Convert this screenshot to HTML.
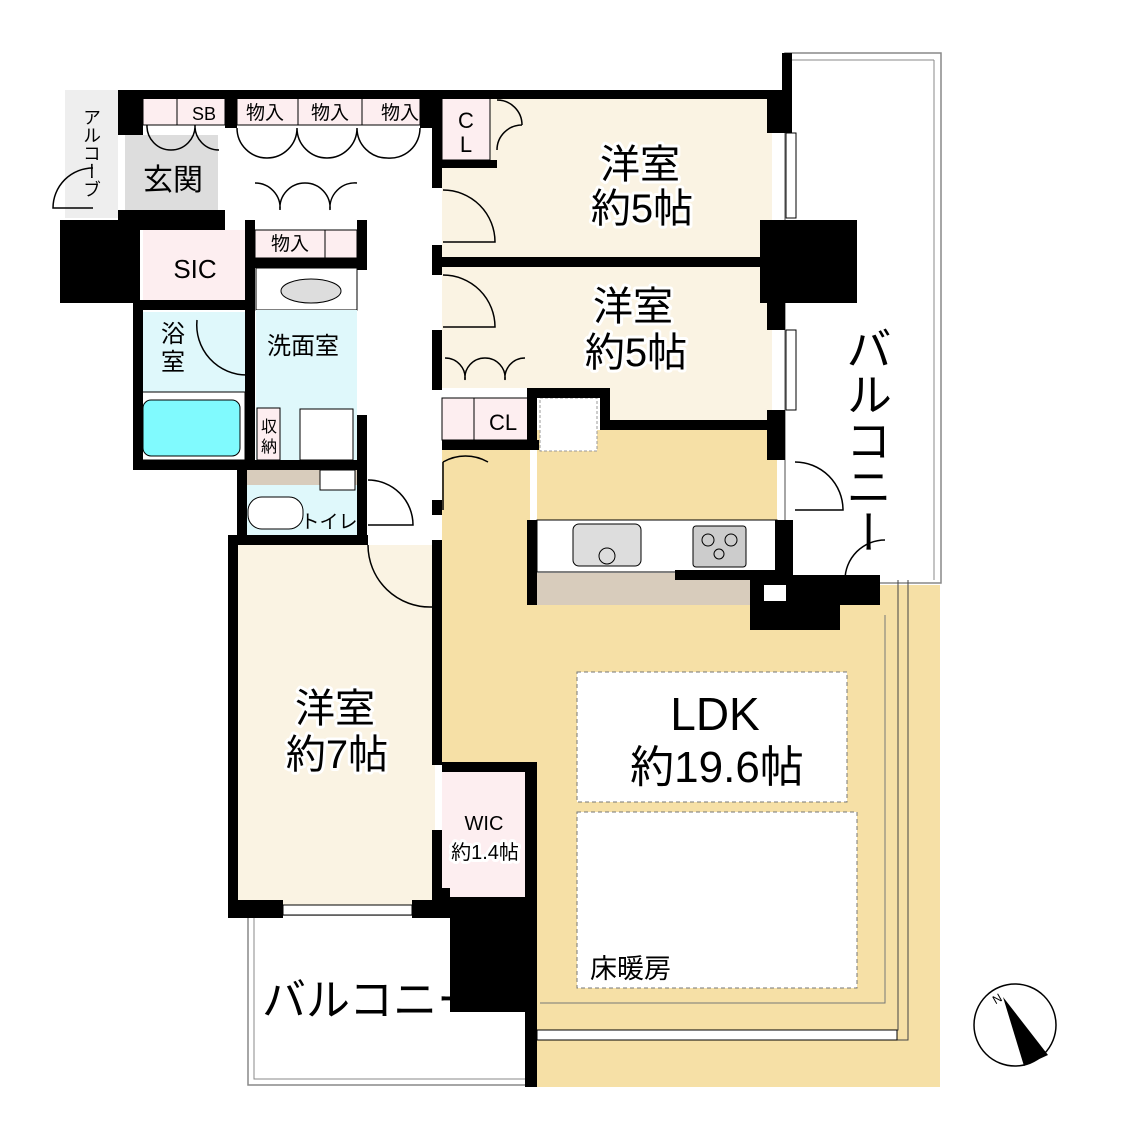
<!DOCTYPE html>
<html><head><meta charset="utf-8"><style>
html,body{margin:0;padding:0;background:#fff;}
svg{display:block;}
text{font-family:"Liberation Sans","Noto Sans CJK JP",sans-serif;fill:#000;}
.w{fill:#000;}
.ln{fill:none;stroke:#000;stroke-width:1.5;}
.th{fill:none;stroke:#555;stroke-width:1;}
.lbl{paint-order:stroke;stroke:#fff;stroke-width:6;stroke-linejoin:round;}
</style></head><body>
<svg width="1123" height="1134" viewBox="0 0 1123 1134" xmlns="http://www.w3.org/2000/svg">
<!-- balconies -->
<rect x="785" y="53" width="156" height="530" fill="#fff" stroke="#888" stroke-width="1.5"/>
<line x1="785" y1="60" x2="934" y2="60" stroke="#888"/><line x1="934" y1="60" x2="934" y2="580" stroke="#888"/>
<rect x="248" y="915" width="285" height="170" fill="#fff" stroke="#888" stroke-width="1.5"/>
<rect x="254" y="915" width="275" height="164" fill="none" stroke="#888" stroke-width="1"/>
<!-- LDK floor -->
<path d="M442 450 L530 450 L530 605 L750 605 L750 630 L840 630 L840 585 L940 585 L940 1087 L530 1087 L530 1010 L525 1010 L525 770 L442 770 Z" fill="#f6e0a6"/>
<rect x="537" y="430" width="240" height="92" fill="#f6e0a6"/>
<path d="M537 430 L537 395 L600 395 L600 430 Z" fill="#fff"/>
<rect x="540" y="398" width="57" height="53" fill="#fff" stroke="#999" stroke-dasharray="3,2"/>
<rect x="530" y="573" width="220" height="32" fill="#d8ccbc"/>
<rect x="537" y="520" width="240" height="52" fill="#fff" stroke="#000"/>
<rect x="573" y="524" width="68" height="42" rx="6" fill="#ddd" stroke="#000"/>
<circle cx="607" cy="556" r="8" fill="#ddd" stroke="#000"/>
<rect x="693" y="526" width="53" height="41" rx="3" fill="#ccc" stroke="#000"/>
<circle cx="708" cy="540" r="6" fill="none" stroke="#000"/><circle cx="731" cy="540" r="6" fill="none" stroke="#000"/><circle cx="719" cy="554" r="5" fill="none" stroke="#000"/>
<path d="M885 615 L885 1003 L540 1003" fill="none" stroke="#777"/>
<path d="M898 580 L898 1030 L540 1030" fill="none" stroke="#444"/><path d="M908 580 L908 1040 L540 1040" fill="none" stroke="#444"/>
<rect x="577" y="672" width="270" height="130" fill="#fff" stroke="#777" stroke-dasharray="4,3"/>
<rect x="577" y="812" width="280" height="176" fill="#fff" stroke="#777" stroke-dasharray="4,3"/>
<!-- rooms -->
<rect x="442" y="98" width="330" height="160" fill="#faf3e3"/>
<path d="M442 267 L772 267 L772 430 L610 430 L610 388 L442 388 Z" fill="#faf3e3"/>
<rect x="442" y="98" width="48" height="62" fill="#fdeef0" stroke="#000" stroke-width="1"/>
<rect x="442" y="398" width="88" height="42" fill="#fdeef0" stroke="#000" stroke-width="1"/><line x1="474" y1="398" x2="474" y2="440" stroke="#000"/>
<rect x="235" y="545" width="200" height="360" fill="#faf3e3"/>
<rect x="442" y="770" width="85" height="130" fill="#fdeef0"/>
<!-- entry area -->
<rect x="65" y="90" width="53" height="128" fill="#eee"/>
<rect x="125" y="135" width="93" height="83" fill="#ddd"/>
<rect x="143" y="98" width="82" height="27" fill="#fdeef0" stroke="#000" stroke-width="1"/><line x1="177" y1="98" x2="177" y2="125" stroke="#000"/>
<rect x="237" y="98" width="183" height="27" fill="#fdeef0" stroke="#000" stroke-width="1"/><line x1="298" y1="98" x2="298" y2="125" stroke="#000"/><line x1="362" y1="98" x2="362" y2="125" stroke="#000"/>
<rect x="255" y="230" width="102" height="28" fill="#fdeef0" stroke="#000" stroke-width="1"/><line x1="325" y1="230" x2="325" y2="258" stroke="#000"/>
<rect x="143" y="230" width="102" height="72" fill="#fdeef0"/>
<rect x="137" y="312" width="110" height="150" fill="#dff8fb"/>
<rect x="137" y="392" width="108" height="68" fill="#fff" stroke="#000"/>
<rect x="143" y="400" width="97" height="56" rx="8" fill="#80fafe" stroke="#000"/>
<rect x="256" y="268" width="101" height="42" fill="#fff" stroke="#000"/>
<ellipse cx="311" cy="291" rx="30" ry="12" fill="#ddd" stroke="#000"/>
<rect x="256" y="310" width="101" height="150" fill="#dff8fb"/>
<rect x="257" y="408" width="23" height="52" fill="#fdeef0" stroke="#000"/>
<rect x="300" y="409" width="53" height="51" fill="#fff" stroke="#000"/>
<rect x="245" y="470" width="112" height="65" fill="#dff8fb"/>
<rect x="245" y="470" width="112" height="15" fill="#d8ccbc"/>
<rect x="320" y="470" width="35" height="20" fill="#fff" stroke="#000"/>
<rect x="248" y="497" width="55" height="32" rx="14" fill="#fff" stroke="#000"/>
<!-- walls -->
<g class="w">
<rect x="118" y="90" width="672" height="9"/>
<rect x="118" y="90" width="25" height="45"/>
<rect x="225" y="98" width="12" height="30"/>
<rect x="420" y="98" width="22" height="30"/>
<rect x="782" y="53" width="10" height="80"/>
<rect x="767" y="98" width="18" height="35"/>
<rect x="432" y="98" width="10" height="90"/>
<rect x="432" y="245" width="10" height="30"/>
<rect x="432" y="330" width="10" height="60"/>
<rect x="442" y="257" width="335" height="10"/>
<rect x="442" y="160" width="55" height="8"/>
<rect x="442" y="440" width="97" height="10"/>
<rect x="527" y="388" width="83" height="10"/><rect x="600" y="388" width="10" height="40"/>
<rect x="600" y="420" width="185" height="10"/>
<rect x="527" y="388" width="10" height="60"/>
<rect x="527" y="520" width="10" height="85"/>
<rect x="760" y="220" width="97" height="83"/>
<rect x="767" y="300" width="18" height="30"/>
<rect x="767" y="410" width="18" height="50"/>
<rect x="775" y="520" width="18" height="75"/>
<rect x="675" y="570" width="100" height="10"/>
<rect x="750" y="575" width="130" height="30"/><rect x="750" y="575" width="90" height="55"/>
<rect x="60" y="220" width="80" height="83"/>
<rect x="118" y="210" width="107" height="20"/>
<rect x="245" y="220" width="10" height="245"/>
<rect x="357" y="220" width="10" height="50"/>
<rect x="357" y="415" width="10" height="130"/>
<rect x="255" y="258" width="102" height="10"/>
<rect x="133" y="300" width="122" height="10"/>
<rect x="133" y="300" width="10" height="168"/>
<rect x="133" y="460" width="234" height="10"/>
<rect x="237" y="465" width="10" height="80"/>
<rect x="228" y="535" width="140" height="10"/>
<rect x="228" y="535" width="10" height="383"/>
<rect x="228" y="900" width="55" height="18"/>
<rect x="412" y="900" width="40" height="18"/>
<rect x="432" y="540" width="10" height="225"/>
<rect x="432" y="830" width="10" height="75"/>
<rect x="432" y="500" width="10" height="15"/>
<rect x="442" y="762" width="95" height="10"/>
<rect x="525" y="762" width="12" height="325"/>
<rect x="450" y="897" width="80" height="115"/>
<rect x="432" y="888" width="18" height="22"/>
</g>
<rect x="764" y="585" width="22" height="16" fill="#fff"/>
<!-- windows -->
<rect x="283" y="905" width="129" height="10" fill="#fff" stroke="#000"/>
<rect x="537" y="1030" width="360" height="10" fill="#fff" stroke="#000"/>
<rect x="786" y="133" width="10" height="85" fill="#fff" stroke="#000"/>
<rect x="786" y="330" width="10" height="80" fill="#fff" stroke="#000"/>
<!-- doors -->
<g class="ln">
<path d="M443 190 A52 52 0 0 1 495 242 L443 242"/>
<path d="M443 275 A52 52 0 0 1 495 327 L443 327"/>
<path d="M443 462 A45 45 0 0 1 488 462 M443 462 L443 510"/>
<path d="M368 545 A62 62 0 0 0 432 607"/>
<path d="M368 480 A45 45 0 0 1 413 525 L368 525"/>
<path d="M795 462 A48 48 0 0 1 843 510 L795 510"/>
<path d="M845 580 A40 40 0 0 1 885 540"/>
<path d="M93 168 A40 40 0 0 0 53 208 L93 208"/>
<path d="M197 320 A50 50 0 0 0 247 375"/>
<path d="M147 125 A24 24 0 0 0 171 150 M195 125 A24 24 0 0 1 171 150 M195 125 A24 24 0 0 0 219 150"/>
<path d="M237 128 A30 30 0 0 0 267 158 M297 128 A30 30 0 0 1 267 158 M297 128 A30 30 0 0 0 327 158 M357 128 A30 30 0 0 1 327 158 M357 128 A30 30 0 0 0 387 158 M420 128 A30 30 0 0 1 387 158"/>
<path d="M255 183 A25 25 0 0 1 280 210 M305 183 A25 25 0 0 0 280 210 M305 183 A25 25 0 0 1 330 210 M357 183 A25 25 0 0 0 330 210"/>
<path d="M497 100 A25 25 0 0 1 522 125 M497 150 A25 25 0 0 1 522 125"/>
<path d="M445 358 A20 20 0 0 1 465 380 M485 358 A20 20 0 0 0 465 380 M485 358 A20 20 0 0 1 505 380 M525 358 A20 20 0 0 0 505 380"/>
</g>
<!-- labels -->
<text x="204" y="120" font-size="18" text-anchor="middle">SB</text>
<text x="265" y="119" font-size="19" text-anchor="middle">物入</text>
<text x="330" y="119" font-size="19" text-anchor="middle">物入</text>
<text x="400" y="119" font-size="19" text-anchor="middle">物入</text>
<text x="290" y="250" font-size="19" text-anchor="middle">物入</text>
<text x="143" y="190" font-size="30">玄関</text>
<text x="195" y="278" font-size="26" text-anchor="middle">SIC</text>
<text x="303" y="354" font-size="24" text-anchor="middle">洗面室</text>
<text x="173" y="342" font-size="24" text-anchor="middle">浴</text>
<text x="173" y="370" font-size="24" text-anchor="middle">室</text>
<text x="269" y="432" font-size="16" text-anchor="middle">収</text>
<text x="269" y="452" font-size="16" text-anchor="middle">納</text>
<text x="329" y="528" font-size="19" text-anchor="middle">トイレ</text>
<text x="466" y="128" font-size="22" text-anchor="middle">C</text>
<text x="466" y="152" font-size="22" text-anchor="middle">L</text>
<text x="503" y="430" font-size="22" text-anchor="middle">CL</text>
<g font-size="18" writing-mode="tb"><text x="91" y="108" style="writing-mode:vertical-rl">アルコーブ</text></g>
<text class="lbl" x="640" y="178" font-size="40" text-anchor="middle">洋室</text>
<text class="lbl" x="642" y="222" font-size="40" text-anchor="middle">約5帖</text>
<text class="lbl" x="633" y="320" font-size="40" text-anchor="middle">洋室</text>
<text class="lbl" x="636" y="366" font-size="40" text-anchor="middle">約5帖</text>
<text class="lbl" x="335" y="722" font-size="40" text-anchor="middle">洋室</text>
<text class="lbl" x="337" y="768" font-size="40" text-anchor="middle">約7帖</text>
<text x="715" y="730" font-size="46" text-anchor="middle">LDK</text>
<text x="717" y="782" font-size="44" text-anchor="middle">約19.6帖</text>
<text x="484" y="830" font-size="20" text-anchor="middle">WIC</text>
<text class="lbl" x="485" y="859" font-size="20" text-anchor="middle" stroke-width="4">約1.4帖</text>
<text x="590" y="978" font-size="27">床暖房</text>
<text x="262" y="1015" font-size="44">バルコニー</text>
<text x="866" y="325" font-size="46" style="writing-mode:vertical-rl">バルコニー</text>
<!-- compass -->
<circle cx="1015" cy="1025" r="41" fill="#fff" stroke="#000" stroke-width="1.5"/>
<path d="M1003 997 L1048 1055 L1024 1066 Z" fill="#000"/>
<text x="993" y="1003" font-size="12" transform="rotate(-30 997 999)">N</text>
</svg>
</body></html>
